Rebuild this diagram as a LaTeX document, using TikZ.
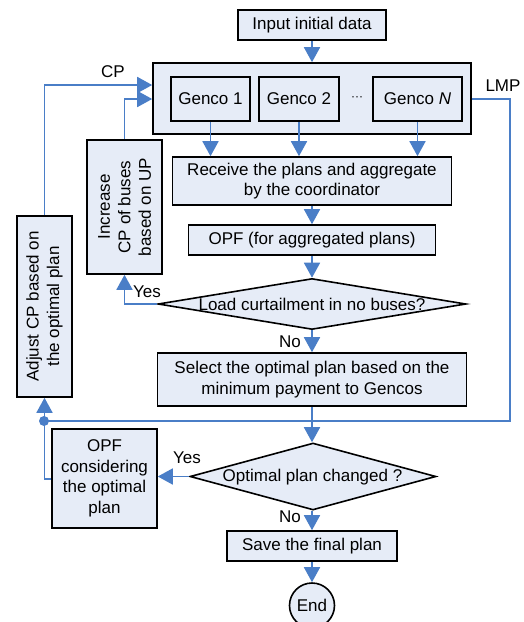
\documentclass[tikz,border=0pt]{standalone}
\usepackage{fontspec}
\setmainfont{Liberation Sans}
\usetikzlibrary{arrows.meta,shapes.geometric}
\definecolor{boxfill}{RGB}{230,236,247}
\definecolor{flowblue}{RGB}{74,126,199}
\begin{document}
\begin{tikzpicture}[x=1pt,y=-1pt, font=\fontsize{17}{20.5}\selectfont,
  box/.style={draw=black, fill=boxfill, line width=1.6pt, inner sep=0pt, align=center},
  dia/.style={diamond, draw=black, fill=boxfill, line width=1.6pt, inner sep=0pt},
  flow/.style={draw=flowblue, line width=1.7pt, -{Triangle[length=15pt,width=16pt]}},
  link/.style={draw=flowblue, line width=1.7pt},
  lbl/.style={inner sep=0pt, align=center}]
\useasboundingbox (0,0) rectangle (524,622);
% main column
\node[box, minimum width=148pt, minimum height=30pt] (input) at (312,25) {Input initial data};
\node[box, minimum width=318pt, minimum height=71pt] (big) at (312,98.5) {};
\node[box, minimum width=79pt, minimum height=44pt] (g1) at (210.5,99) {Genco 1};
\node[box, minimum width=80pt, minimum height=44pt] (g2) at (299,99) {Genco 2};
\node[lbl] (dots) at (357,99) {\fontsize{12}{14}\selectfont ···};
\node[box, minimum width=89pt, minimum height=44pt] (gN) at (417.5,99) {Genco \textit{N}};
\node[box, minimum width=279pt, minimum height=48pt] (receive) at (312,181) {Receive the plans and aggregate\\by the coordinator};
\node[box, minimum width=247pt, minimum height=30pt] (opf) at (312,240) {OPF (for aggregated plans)};
\node[dia, minimum width=308pt, minimum height=51pt] (d1) at (312,304) {};
\node[lbl] (d1t) at (312,304) {Load curtailment in no buses?};
\node[box, minimum width=309pt, minimum height=53pt] (select) at (312,379.5) {Select the optimal plan based on the\\minimum payment to Gencos};
\node[dia, minimum width=246pt, minimum height=67pt] (d2) at (313,476.5) {};
\node[lbl] (d2t) at (312.5,477) {Optimal plan changed ?};
\node[box, minimum width=170pt, minimum height=30pt] (save) at (312,546) {Save the final plan};
\node[circle, draw=black, fill=boxfill, line width=1.6pt, inner sep=0pt, minimum size=45pt] (end) at (312,605.5) {End};
% side boxes
\node[box, minimum width=75pt, minimum height=134pt] (increase) at (124.5,207) {};
\node[lbl, rotate=90] (inct) at (124.5,207) {Increase\\CP of buses\\based on UP};
\node[box, minimum width=55pt, minimum height=181pt] (adjust) at (44.5,306.5) {};
\node[lbl, rotate=90] (adjt) at (44.5,306.5) {Adjust CP based on\\the optimal plan};
\node[box, minimum width=105pt, minimum height=99pt] (opf2) at (104.5,478.5) {OPF\\considering\\the optimal\\plan};
% coordinates
\coordinate (cpin) at (big.west |- 0,85);
\coordinate (upin) at (big.west |- 0,99);
\coordinate (lmpout) at (big.east |- 0,99);
\coordinate (rc) at (510,421);
\coordinate (junc) at (44,421);
\coordinate (opf2out) at (opf2.west |- 0,479);
% connectors
\draw[flow] (input.south) -- (big.north);
\draw[flow] (g1.south) -- (g1.south |- receive.north);
\draw[flow] (g2.south) -- (g2.south |- receive.north);
\draw[flow] (gN.south) -- (gN.south |- receive.north);
\draw[flow] (receive.south) -- (opf.north);
\draw[flow] (opf.south) -- (d1.north);
\draw[flow] (d1.west) -| (increase.south);
\draw[flow] (increase.north) |- (upin);
\draw[flow] (adjust.north) |- (cpin);
\draw[flow] (d1.south) -- (select.north);
\draw[link] (lmpout) -| (rc) -- (junc);
\draw[flow] (select.south) -- (select.south |- d2.north);
\draw[flow] (d2.west) -- (opf2.east |- d2.west);
\draw[flow] (opf2out) -| (adjust.south);
\fill[flowblue] (junc) circle (5pt);
\draw[flow] (d2.south -| save.north) -- (save.north);
\draw[flow] (save.south) -- (end.north);
% labels
\node[lbl] (cpl) at (113,72) {CP};
\node[lbl] (lmpl) at (503,86) {LMP};
\node[lbl] (yes1) at (147,292) {Yes};
\node[lbl] (no1) at (290,342) {No};
\node[lbl] (yes2) at (187,458) {Yes};
\node[lbl] (no2) at (290,517) {No};
\end{tikzpicture}
\end{document}
